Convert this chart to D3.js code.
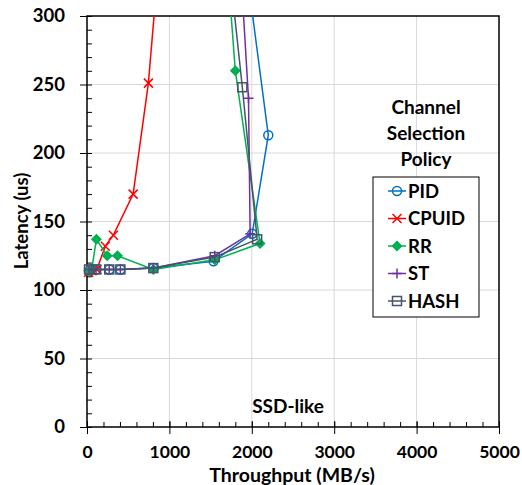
<!DOCTYPE html>
<html>
<head>
<meta charset="utf-8">
<script src="https://cdn.jsdelivr.net/npm/d3@7"></script>
<style>
  body { margin: 0; background: #fff; }
  text { font-family: Lato, "Open Sans", sans-serif; font-weight: bold; }
</style>
</head>
<body>
<div id="chart"></div>
<script>
var svgWidth = 522;
var svgHeight = 485;

var margin = { top: 16, right: 23, bottom: 58, left: 87 };
var width = svgWidth - margin.left - margin.right;
var height = svgHeight - margin.top - margin.bottom;

// Data (throughput MB/s, latency us)
var seriesNames = ["PID", "CPUID", "RR", "ST", "HASH"];
var seriesColors = ["#0070C0", "#FF0000", "#00B050", "#7030A0", "#44546A"];

var pidX = [25, 110, 270, 405, 805, 1535, 2005, 2200, 1750];
var pidY = [114, 115, 115, 115, 116, 121, 141, 213, 420];

var cpuidX = [20, 60, 120, 222, 320, 560, 745, 870];
var cpuidY = [113, 114, 115, 132, 140, 170, 251, 340];

var rrX = [20, 60, 114, 245, 370, 805, 1550, 2100, 1800, 1650];
var rrY = [114, 116, 137, 125, 125, 115, 122, 134, 260, 380];

var stX = [25, 110, 270, 405, 805, 1550, 1980, 1960, 1820];
var stY = [115, 115, 115, 115, 116, 125, 141, 240, 380];

var hashX = [25, 110, 270, 405, 805, 1550, 2065, 1885, 1650];
var hashY = [115, 115, 115, 115, 116, 124, 137, 248, 380];

var xMajor = [0, 1000, 2000, 3000, 4000, 5000];
var yMajor = [0, 50, 100, 150, 200, 250, 300];

var allX = [pidX, cpuidX, rrX, stX, hashX];
var allY = [pidY, cpuidY, rrY, stY, hashY];

var svg = d3.select("#chart")
  .append("svg")
  .attr("width", svgWidth)
  .attr("height", svgHeight);

var chartGroup = svg.append("g")
  .attr("transform", `translate(${margin.left}, ${margin.top})`);

var xScale = d3.scaleLinear().domain([0, 5000]).range([0, width]);
var yScale = d3.scaleLinear().domain([0, 300]).range([height, 0]);

// gridlines
chartGroup.append("g")
  .selectAll("line.vg")
  .data(xMajor.slice(1, -1))
  .enter().append("line")
  .attr("x1", d => xScale(d)).attr("x2", d => xScale(d))
  .attr("y1", 0).attr("y2", height)
  .attr("stroke", "#d9d9d9").attr("stroke-width", 1);

chartGroup.append("g")
  .selectAll("line.hg")
  .data(yMajor.slice(1, -1))
  .enter().append("line")
  .attr("x1", 0).attr("x2", width)
  .attr("y1", d => yScale(d)).attr("y2", d => yScale(d))
  .attr("stroke", "#d9d9d9").attr("stroke-width", 1);

// minor ticks (inside)
chartGroup.append("g")
  .call(d3.axisLeft(yScale).tickValues(d3.range(0, 301, 10)).tickSize(-5).tickFormat(""))
  .call(g => g.select(".domain").remove())
  .selectAll("line").attr("stroke", "#000");

chartGroup.append("g")
  .attr("transform", `translate(0, ${height})`)
  .call(d3.axisBottom(xScale).tickValues(d3.range(0, 5001, 200)).tickSize(-5).tickFormat(""))
  .call(g => g.select(".domain").remove())
  .selectAll("line").attr("stroke", "#000");

// major ticks + labels
var leftAxis = chartGroup.append("g")
  .call(d3.axisLeft(yScale).tickValues(yMajor).tickSize(7).tickPadding(15));
leftAxis.select(".domain").remove();
leftAxis.selectAll("line").attr("stroke", "#000");
leftAxis.selectAll("text")
  .attr("font-size", 18.5).attr("fill", "#000");

var bottomAxis = chartGroup.append("g")
  .attr("transform", `translate(0, ${height})`)
  .call(d3.axisBottom(xScale).tickValues(xMajor).tickSize(7).tickPadding(12).tickFormat(d3.format("d")));
bottomAxis.select(".domain").remove();
bottomAxis.selectAll("line").attr("stroke", "#000").attr("y1", -6);
bottomAxis.selectAll("text")
  .attr("font-size", 17.5).attr("fill", "#000");

// frame
chartGroup.append("rect")
  .attr("x", 0).attr("y", 0)
  .attr("width", width).attr("height", height)
  .attr("fill", "none").attr("stroke", "#000").attr("stroke-width", 1.5);

// clip
svg.append("defs").append("clipPath").attr("id", "plotclip")
  .append("rect")
  .attr("x", -8).attr("y", 0)
  .attr("width", width + 8).attr("height", height + 10);

var plot = chartGroup.append("g").attr("clip-path", "url(#plotclip)");

var line = d3.line().x(d => xScale(d[0])).y(d => yScale(d[1]));

function drawMarker(sel, name, color) {
  if (name === "PID") {
    sel.append("circle").attr("r", 4.5)
      .attr("fill", "none").attr("stroke", color).attr("stroke-width", 1.5);
  } else if (name === "CPUID") {
    sel.append("path").attr("d", "M-4.5,-4.5L4.5,4.5M-4.5,4.5L4.5,-4.5")
      .attr("stroke", color).attr("stroke-width", 1.5);
  } else if (name === "RR") {
    sel.append("path").attr("d", "M0,-5.5L5.5,0L0,5.5L-5.5,0Z")
      .attr("fill", color);
  } else if (name === "ST") {
    sel.append("path").attr("d", "M-5,0L5,0M0,-5L0,5")
      .attr("stroke", color).attr("stroke-width", 1.5);
  } else {
    sel.append("rect").attr("x", -4.5).attr("y", -4.5)
      .attr("width", 9).attr("height", 9)
      .attr("fill", "none").attr("stroke", color).attr("stroke-width", 1.5);
  }
}

seriesNames.forEach(function(name, i) {
  var pts = allX[i].map((x, j) => [x, allY[i][j]]);
  plot.append("path")
    .datum(pts)
    .attr("d", line)
    .attr("fill", "none")
    .attr("stroke", seriesColors[i])
    .attr("stroke-width", 1.5);

  plot.selectAll(".m" + i)
    .data(pts)
    .enter().append("g")
    .attr("transform", d => `translate(${xScale(d[0])}, ${yScale(d[1])})`)
    .each(function() { drawMarker(d3.select(this), name, seriesColors[i]); });
});

// legend
var legendTitle = ["Channel", "Selection", "Policy"];
svg.append("g").selectAll("text")
  .data(legendTitle)
  .enter().append("text")
  .attr("x", 426)
  .attr("y", (d, i) => 114 + i * 26)
  .attr("text-anchor", "middle")
  .attr("font-size", 19)
  .text(d => d);

svg.append("rect")
  .attr("x", 373).attr("y", 177)
  .attr("width", 106).attr("height", 140)
  .attr("fill", "#fff").attr("stroke", "#000").attr("stroke-width", 1);

var legendItems = svg.append("g").selectAll("g")
  .data(seriesNames)
  .enter().append("g")
  .attr("transform", (d, i) => `translate(397, ${191 + i * 27.5})`);

legendItems.append("line")
  .attr("x1", -9).attr("x2", 9)
  .attr("stroke", (d, i) => seriesColors[i]).attr("stroke-width", 1.5);

legendItems.each(function(d, i) { drawMarker(d3.select(this), d, seriesColors[i]); });

legendItems.append("text")
  .attr("x", 11).attr("y", 6.5)
  .attr("font-size", 18.5)
  .text(d => d);

// labels
svg.append("text")
  .attr("x", 288).attr("y", 413)
  .attr("text-anchor", "middle")
  .attr("font-size", 19)
  .text("SSD-like");

svg.append("text")
  .attr("x", 292).attr("y", 482)
  .attr("text-anchor", "middle")
  .attr("font-size", 19.5)
  .text("Throughput (MB/s)");

svg.append("text")
  .attr("transform", "translate(28, 221) rotate(-90)")
  .attr("text-anchor", "middle")
  .attr("font-size", 18.5)
  .text("Latency (us)");
</script>
</body>
</html>
